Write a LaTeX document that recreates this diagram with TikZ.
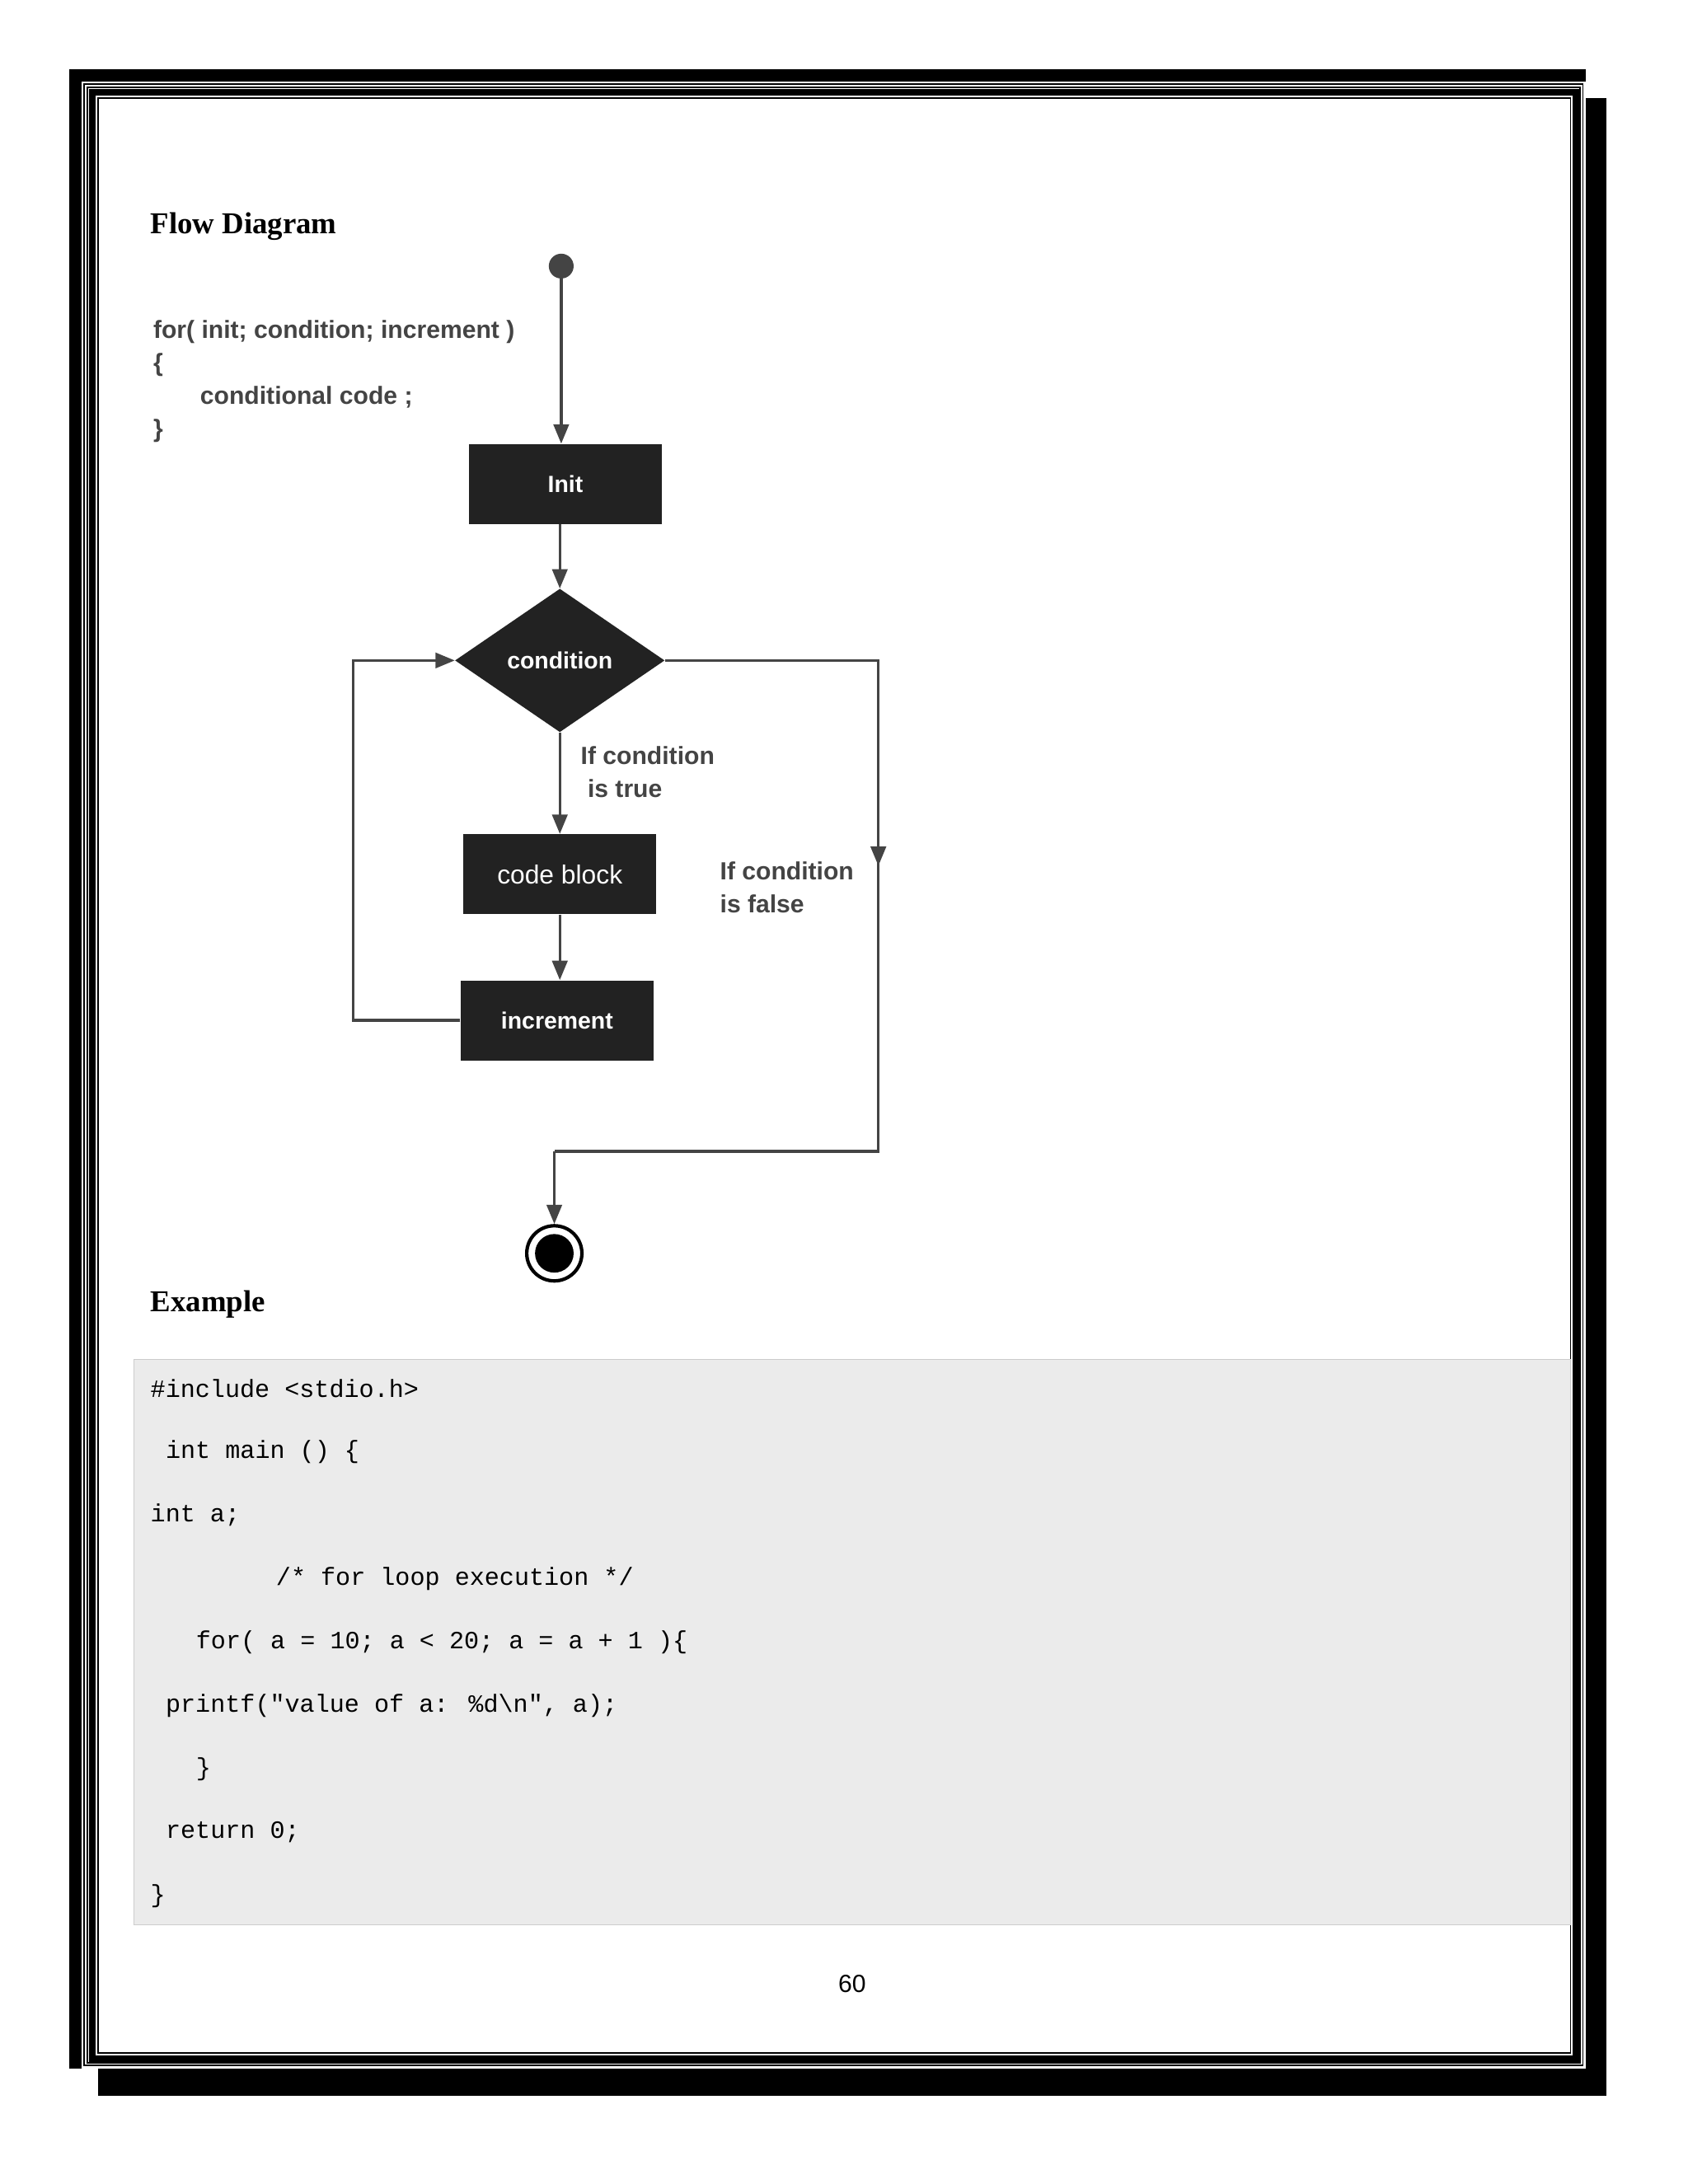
\documentclass[tikz,border=0pt]{standalone}
\usepackage{fontspec}
\setmainfont{Liberation Serif}
\newfontfamily\sansf{Liberation Sans}
\newfontfamily\monof{Liberation Mono}
\usetikzlibrary{shapes.geometric,arrows.meta}
\definecolor{boxc}{HTML}{222222}
\definecolor{linec}{HTML}{444444}
\begin{document}
\begin{tikzpicture}[x=1pt,y=-1pt,
  blk/.style={fill=boxc,draw=none,text=white,font=\sansf\bfseries\fontsize{17}{20}\selectfont},
  conn/.style={draw=linec,line width=2pt,-{Triangle[length=14pt,width=11pt]}},
  lbl/.style={font=\sansf\bfseries\fontsize{18}{24}\selectfont,text=linec,anchor=north west,align=left,inner sep=0},
  code/.style={font=\monof\fontsize{18}{20}\selectfont,anchor=west,inner sep=0}]
\useasboundingbox (0,0) rectangle (1224,1584);
% frame
\fill[black] (50,50) rectangle (1165,1520);
\fill[white] (59,59) rectangle (1150,1500);
\draw[line width=1pt] (61,61) rectangle (1148,1498);
\draw[line width=1pt] (63.5,63.5) rectangle (1146,1496);
\draw[line width=5pt] (67,67) rectangle (1143,1493);
\draw[line width=1pt] (71,71) rectangle (1139,1489);
\fill[white] (1150,50) rectangle (1165,71);
\fill[white] (50,1500) rectangle (71,1520);
% headings
\node[font=\bfseries\fontsize{22}{26}\selectfont,anchor=west,inner sep=0] (h1) at (109,164) {Flow Diagram};
\node[font=\bfseries\fontsize{22}{26}\selectfont,anchor=west,inner sep=0] (h2) at (109,946) {Example};
% syntax
\node[lbl] (syn) at (111,232) {for( init; condition; increment )\\\{\\\hspace*{34pt}conditional code ;\\\}};
% nodes
\fill[linec] (407,193) circle (9);
\coordinate (start) at (407,202);
\node[blk,minimum width=140pt,minimum height=58pt] (init) at (410,351) {Init};
\node[blk,diamond,minimum width=152pt,minimum height=104pt,inner sep=0,aspect=1.46] (cond) at (406,479) {condition};
\node[blk,minimum width=140pt,minimum height=58pt,font=\sansf\fontsize{19}{22}\selectfont] (code) at (406,634) {code block};
\node[blk,minimum width=140pt,minimum height=58pt] (inc) at (404,740) {increment};
\node[circle,draw=black,line width=2.5pt,fill=white,minimum size=40pt,inner sep=0] (end) at (402,909) {};
\fill[black] (402,909) circle (14);
% connectors
\draw[conn] (start) -- (init.north -| start);
\draw[conn] (init.south -| 406,0) -- (cond.north);
\draw[conn] (cond.south) -- (code.north);
\draw[conn] (code.south) -- (inc.north -| code.south);
\draw[conn] (inc.west) -- (256,740) -- (256,479) -- (cond.west);
\coordinate (r1) at (637,479);
\coordinate (r2) at (637,835);
\coordinate (r3) at (402,835);
\draw[draw=linec,line width=2pt] (cond.east) -- (r1) -- (r2) -- (r3);
\draw[conn] (r1) -- (637,628);
\draw[conn] (r3) -- (end.north);
\node[lbl] (t1) at (421,541) {If condition\\\hspace*{5pt}is true};
\node[lbl] (t2) at (522,625) {If condition\\is false};
% code box
\draw[fill=gray!16,draw=gray!40] (97,986) rectangle (1139,1396);
\node[code] at (109,1007) {\#include <stdio.h>};
\node[code] at (120,1053) {int main () \{};
\node[code] at (109,1099) {int a;};
\node[code] at (200,1145) {/* for loop execution */};
\node[code] at (142,1191) {for( a = 10; a < 20; a = a + 1 )\{};
\node[code] at (120,1237) {printf("value of a: \%d\textbackslash n", a);};
\node[code] at (142,1283) {\}};
\node[code] at (120,1329) {return 0;};
\node[code] at (109,1375) {\}};
\node[font=\sansf\fontsize{18}{20}\selectfont,inner sep=0] (pg) at (618,1439) {60};
\end{tikzpicture}
\end{document}
